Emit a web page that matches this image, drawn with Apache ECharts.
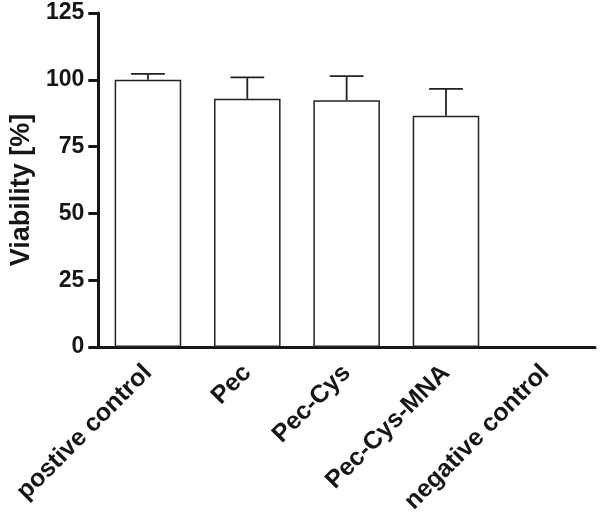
<!DOCTYPE html>
<html><head><meta charset="utf-8">
<script src="https://cdn.jsdelivr.net/npm/echarts@6/dist/echarts.min.js"></script>
<style>html,body{margin:0;padding:0;background:#fff}#c{width:600px;height:521px}</style>
</head><body><div id="c"></div><script>
const categories = ['postive control', 'Pec', 'Pec-Cys', 'Pec-Cys-MNA', 'negative control'];
const means = [100.0, 92.9, 92.3, 86.5, null];
const errors = [2.2, 8.0, 9.1, 10.1, null];
const yMin = 0, yMax = 125, yStep = 25;

const FONT = '"Liberation Sans", Arial, Helvetica, sans-serif';
const INK = '#161616';
const chart = echarts.init(document.getElementById('c'), null, {renderer: 'canvas'});
const errData = means.map((m, i) => (m == null || errors[i] == null) ? null : [i, m, m + errors[i]]).filter(Boolean);

chart.setOption({
  animation: false,
  backgroundColor: '#fff',
  grid: {left: 94, right: 5, top: 13, bottom: 174},
  xAxis: {
    type: 'category', data: categories,
    axisLine: {lineStyle: {color: INK, width: 3}},
    axisTick: {alignWithLabel: true, length: 8, lineStyle: {color: INK, width: 3}},
    axisLabel: {rotate: 45, interval: 0, fontSize: 25, fontWeight: 'bold', fontFamily: FONT, color: INK, margin: 22, padding: [36, 0, 0, 0]},
    splitLine: {show: false}
  },
  yAxis: {
    type: 'value', min: yMin, max: yMax, interval: yStep,
    name: 'Viability [%]', nameLocation: 'middle', nameGap: 61,
    nameTextStyle: {fontSize: 27, fontWeight: 'bold', fontFamily: FONT, color: INK, padding: [0, 20, 0, 0]},
    axisLine: {show: true, lineStyle: {color: INK, width: 3}},
    axisTick: {show: true, length: 10, lineStyle: {color: INK, width: 3}},
    axisLabel: {fontSize: 23, fontWeight: 'bold', fontFamily: FONT, color: INK, margin: 14},
    splitLine: {show: false}
  },
  series: [
    {
      type: 'bar', data: means, barWidth: '67%',
      itemStyle: {color: '#fff', borderColor: '#222', borderWidth: 1.5}
    },
    {
      type: 'custom', data: errData, z: 5,
      renderItem: function (params, api) {
        const i = api.value(0);
        const lo = api.coord([i, api.value(1)]);
        const hi = api.coord([i, api.value(2)]);
        const half = api.size([1, 0])[0] * 0.17;
        const st = {stroke: '#222', lineWidth: 1.8};
        return {type: 'group', children: [
          {type: 'line', shape: {x1: lo[0], y1: lo[1], x2: hi[0], y2: hi[1]}, style: st},
          {type: 'line', shape: {x1: hi[0] - half, y1: hi[1], x2: hi[0] + half, y2: hi[1]}, style: st}
        ]};
      }
    }
  ]
});
</script></body></html>
